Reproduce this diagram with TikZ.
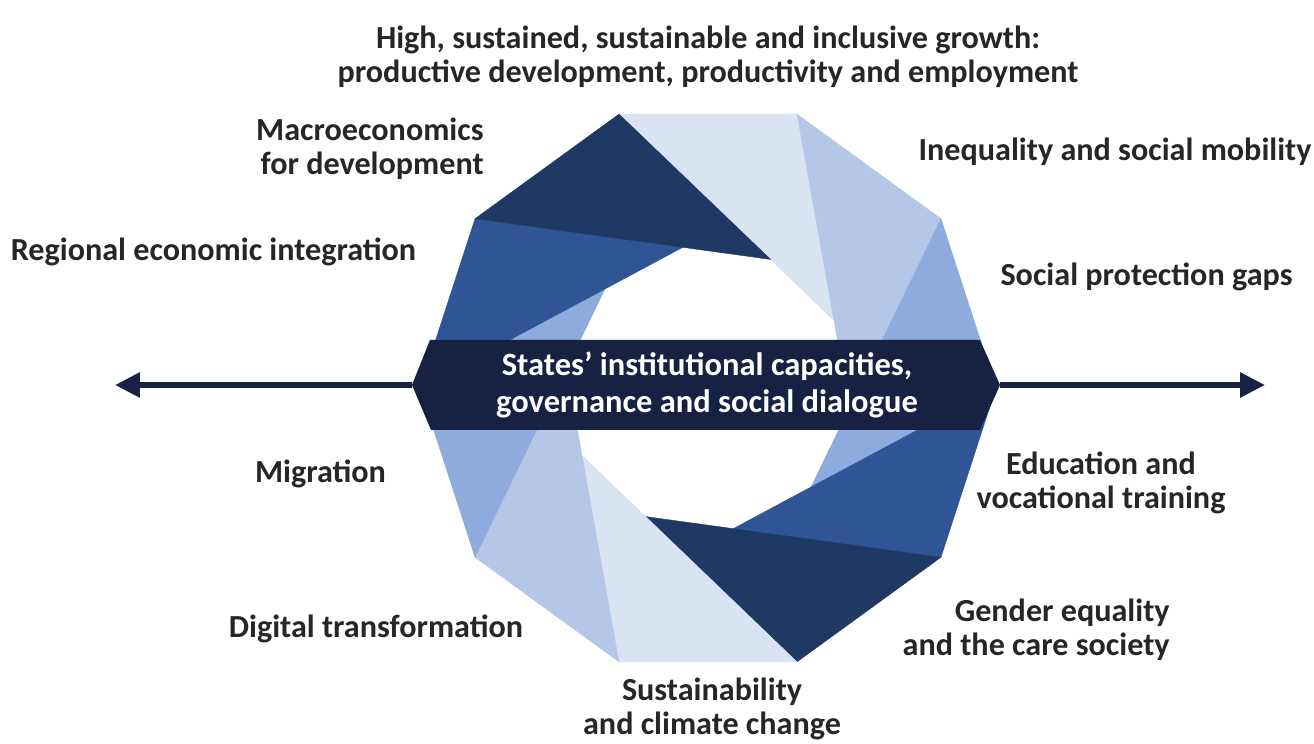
\documentclass[tikz,border=0pt]{standalone}
\usepackage{fontspec}
\setmainfont{Carlito}
\usetikzlibrary{arrows.meta, positioning}

\definecolor{bladeDark}{HTML}{203864}
\definecolor{bladeMid}{HTML}{2F5597}
\definecolor{bladePeri}{HTML}{8FAADC}
\definecolor{bladeSoft}{HTML}{B4C7E7}
\definecolor{bladePale}{HTML}{DAE3F3}
\definecolor{bandNavy}{HTML}{172142}
\definecolor{labelGray}{HTML}{262626}

\tikzset{
  topic/.style={font=\bfseries\fontsize{18.3}{19.3}\selectfont, text=labelGray, inner sep=0pt, align=center},
  core/.style={font=\bfseries\fontsize{18.5}{21}\selectfont, text=white, inner sep=0pt, align=center},
  blade/.style={fill=#1, draw=#1, line width=0.2pt},
  axis/.style={draw=bandNavy, line width=3.4pt, -{Triangle[length=0.5cm, width=0.48cm]}},
}

\begin{document}
\begin{tikzpicture}
    \useasboundingbox (-14.16,-7.12) rectangle (12.12,7.76);

    % ring of blades, outer radius 5.76, tips on radius 2.86
    \filldraw[blade=bladePale] (108:5.76) -- (72:5.76) -- (28:2.86) -- cycle;
    \filldraw[blade=bladeSoft] (72:5.76) -- (36:5.76) -- (-8:2.86) -- cycle;
    \filldraw[blade=bladePeri] (36:5.76) -- (0:5.76) -- (-44:2.86) -- cycle;
    \filldraw[blade=bladeMid] (0:5.76) -- (-36:5.76) -- (-80:2.86) -- cycle;
    \filldraw[blade=bladeDark] (-36:5.76) -- (-72:5.76) -- (-116:2.86) -- cycle;
    \filldraw[blade=bladePale] (-72:5.76) -- (-108:5.76) -- (-152:2.86) -- cycle;
    \filldraw[blade=bladeSoft] (-108:5.76) -- (-144:5.76) -- (172:2.86) -- cycle;
    \filldraw[blade=bladePeri] (-144:5.76) -- (180:5.76) -- (136:2.86) -- cycle;
    \filldraw[blade=bladeMid] (180:5.76) -- (144:5.76) -- (100:2.86) -- cycle;
    \filldraw[blade=bladeDark] (144:5.76) -- (108:5.76) -- (64:2.86) -- cycle;

    % horizontal axis
    \coordinate (bandW) at (-5.92,0.06);
    \coordinate (bandE) at (5.84,0.06);
    \coordinate (arrW) at (-11.86,0.06);
    \coordinate (arrE) at (11.14,0.06);
    \draw[axis] (bandW) -- (arrW);
    \draw[axis] (bandE) -- (arrE);

    % central band
    \fill[bandNavy] (bandW) -- (-5.56,0.96) -- (5.44,0.96) -- (bandE) -- (5.44,-0.84) -- (-5.54,-0.84) -- cycle;
    \node[core] (core) at (-0.02,0.06) {States’ institutional capacities,\\governance and social dialogue};

    % topics
    \node[topic] (growth) at (0,6.63) {High, sustained, sustainable and inclusive growth:\\productive development, productivity and employment};
    \node[topic, anchor=east, align=right] (macro) at (-4.48,4.79) {Macroeconomics\\for development};
    \node[topic] (regional) at (-9.89,2.72) {Regional economic integration};
    \node[topic] (inequality) at (8.14,4.72) {Inequality and social mobility};
    \node[topic] (protection) at (8.77,2.22) {Social protection gaps};
    \node[topic] (migration) at (-7.75,-1.72) {Migration};
    \node[topic] (education) at (7.86,-1.89) {Education and\\vocational training};
    \node[topic] (digital) at (-6.64,-4.82) {Digital transformation};
    \node[topic, anchor=east, align=right] (gender) at (9.24,-4.83) {Gender equality\\and the care society};
    \node[topic] (climate) at (0.08,-6.42) {Sustainability\\and climate change};
\end{tikzpicture}
\end{document}
